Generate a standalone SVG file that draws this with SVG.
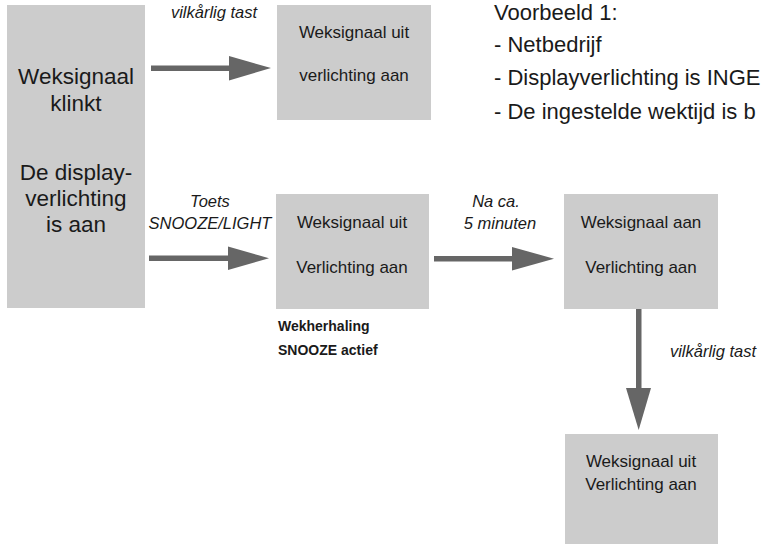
<svg xmlns="http://www.w3.org/2000/svg" width="762" height="548" viewBox="0 0 762 548">
<style>
.box{fill:#cccccc}
.arr{fill:#666666}
text{font-family:"Liberation Sans",Arial,sans-serif;fill:#1a1a1a}
.big{font-size:22.5px;text-anchor:middle}
.mid{font-size:17px;text-anchor:middle}
.lbl{font-size:16.5px;font-style:italic;text-anchor:middle}
.note{font-size:22px}
.bold{font-size:14px;font-weight:bold}
</style>
<rect width="762" height="548" fill="#ffffff"/>
<g id="start">
<rect class="box" x="7" y="5" width="138" height="303"/>
<text class="big" x="76" y="84">Weksignaal</text>
<text class="big" x="76" y="111">klinkt</text>
<text class="big" x="76" y="180">De display-</text>
<text class="big" x="76" y="206">verlichting</text>
<text class="big" x="76" y="232">is aan</text>
</g>
<g id="top-off">
<rect class="box" x="277" y="5" width="154" height="115"/>
<text class="mid" x="354" y="38">Weksignaal uit</text>
<text class="mid" x="354" y="81">verlichting aan</text>
</g>
<g id="snooze">
<rect class="box" x="276" y="194" width="153" height="115"/>
<text class="mid" x="352" y="228">Weksignaal uit</text>
<text class="mid" x="352" y="273">Verlichting aan</text>
<text class="bold" x="278" y="331">Wekherhaling</text>
<text class="bold" x="278" y="355">SNOOZE actief</text>
</g>
<g id="again">
<rect class="box" x="564" y="194" width="154" height="115"/>
<text class="mid" x="641" y="228">Weksignaal aan</text>
<text class="mid" x="641" y="273">Verlichting aan</text>
</g>
<g id="final">
<rect class="box" x="565" y="434" width="153" height="110"/>
<text class="mid" x="641" y="467">Weksignaal uit</text>
<text class="mid" x="641" y="490">Verlichting aan</text>
</g>
<g id="notes">
<text class="note" x="494" y="20">Voorbeeld 1:</text>
<text class="note" x="494" y="52">- Netbedrijf</text>
<text class="note" x="494" y="85">- Displayverlichting is INGE</text>
<text class="note" x="494" y="119">- De ingestelde wektijd is b</text>
</g>
<g id="connectors">
<rect class="arr" x="151" y="65.5" width="80" height="5.5"/>
<polygon class="arr" points="229,56 271,68 229,80.5"/>
<text class="lbl" x="214" y="18">vilkårlig tast</text>
<rect class="arr" x="149" y="255.5" width="81" height="5.5"/>
<polygon class="arr" points="228,246.5 269,258.2 228,270"/>
<text class="lbl" x="210" y="207">Toets</text>
<text class="lbl" x="210" y="229">SNOOZE/LIGHT</text>
<rect class="arr" x="434" y="256" width="80" height="5.5"/>
<polygon class="arr" points="512,247 554,258.7 512,270.5"/>
<text class="lbl" x="496" y="207">Na ca.</text>
<text class="lbl" x="500" y="229">5 minuten</text>
<rect class="arr" x="636" y="309" width="5.5" height="81"/>
<polygon class="arr" points="626,388 651,388 638.7,430"/>
<text class="lbl" x="713" y="357">vilkårlig tast</text>
</g>
</svg>
